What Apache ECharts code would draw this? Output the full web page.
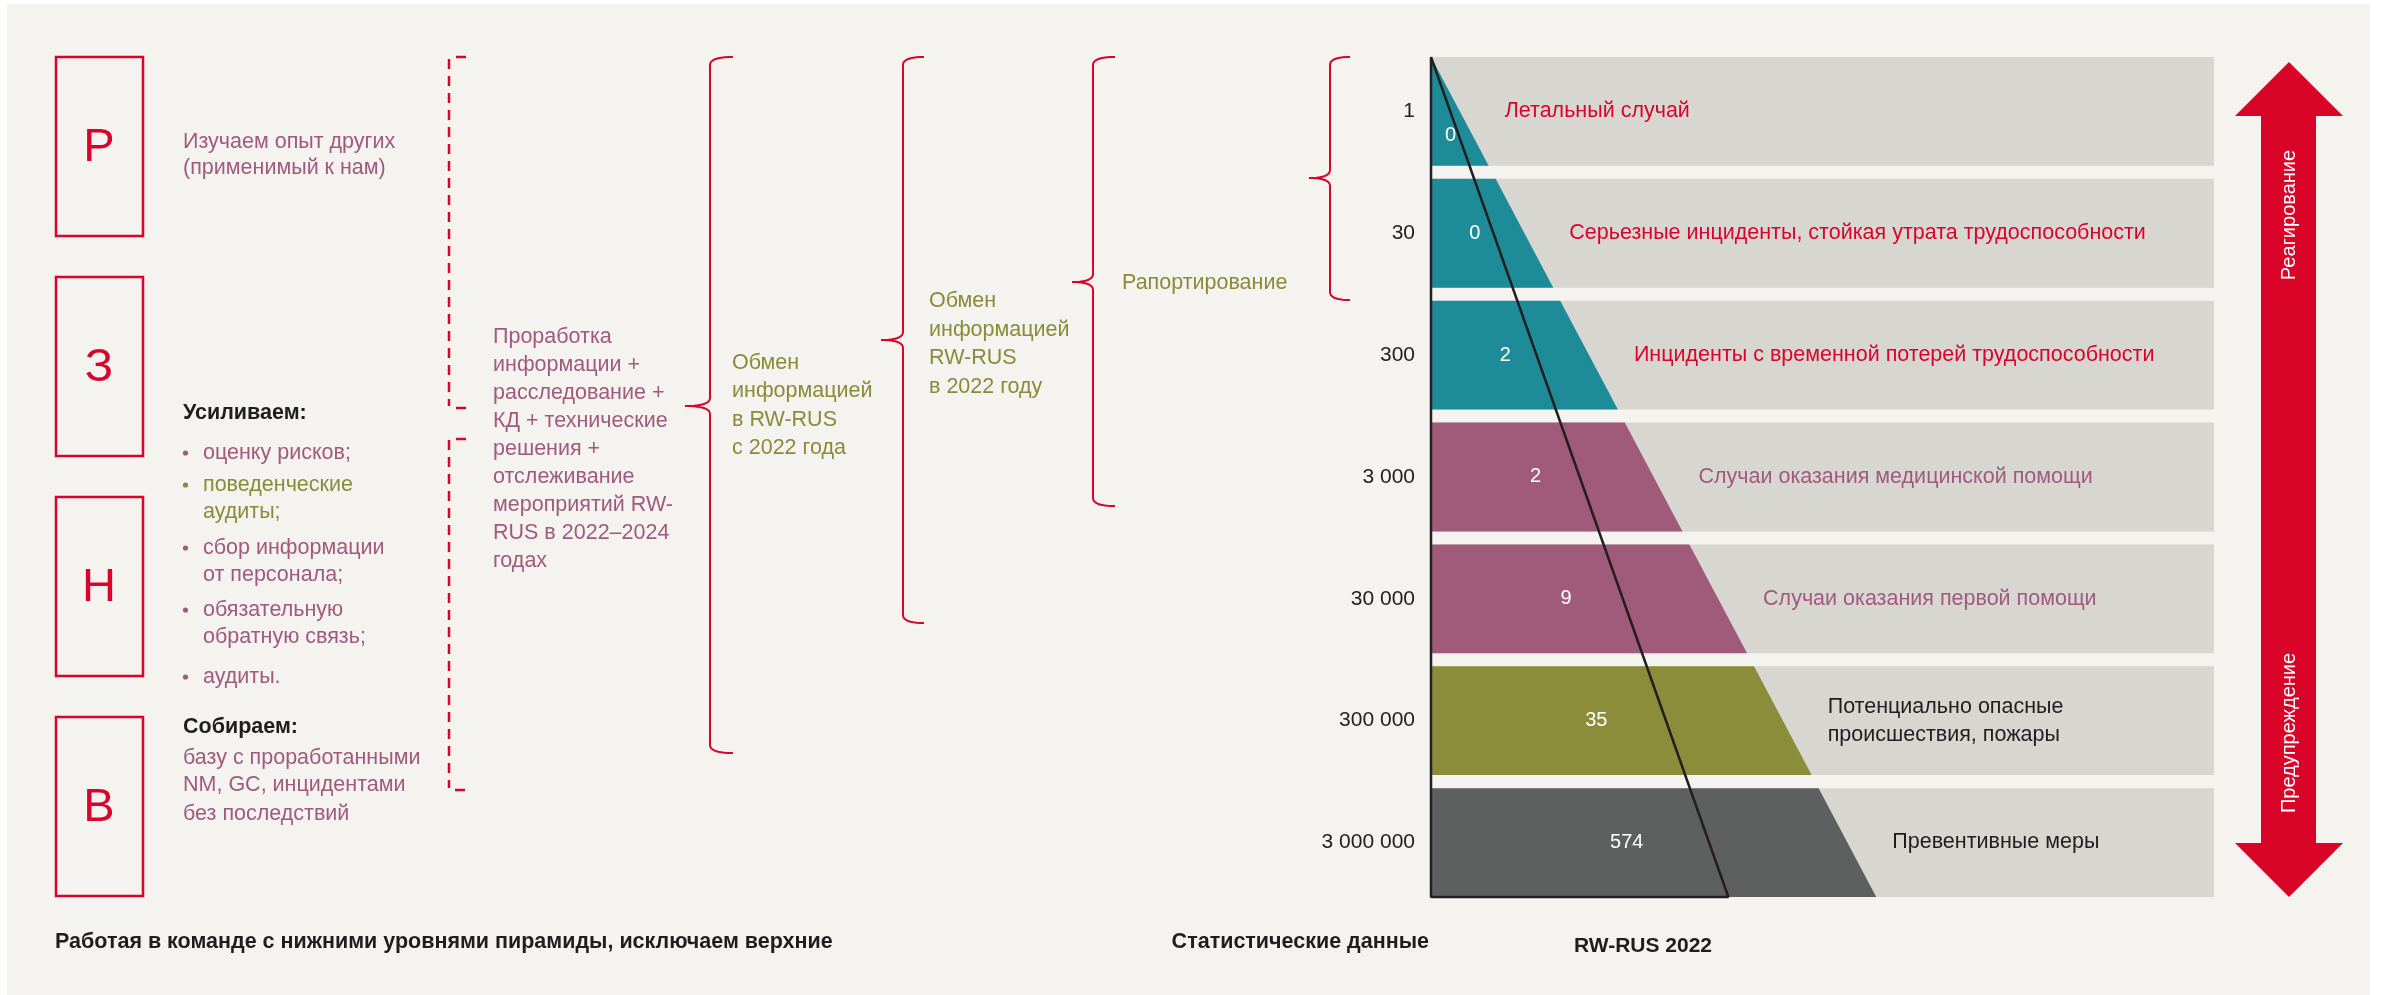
<!DOCTYPE html>
<html><head><meta charset="utf-8">
<script src="https://cdn.jsdelivr.net/npm/echarts@6/dist/echarts.min.js"></script>
<style>html,body{margin:0;padding:0;background:#fff}#c{width:2382px;height:995px}</style>
</head><body><div id="c"></div>
<script>
// ---- data ----
const levels = ['1', '30', '300', '3 000', '30 000', '300 000', '3 000 000'];
const counts2022 = [0, 0, 2, 2, 9, 35, 574];
const descriptions = [
  'Летальный случай',
  'Серьезные инциденты, стойкая утрата трудоспособности',
  'Инциденты с временной потерей трудоспособности',
  'Случаи оказания медицинской помощи',
  'Случаи оказания первой помощи',
  'Потенциально опасные\nпроисшествия, пожары',
  'Превентивные меры'
];
const levelGroups = ['injury', 'injury', 'injury', 'medical', 'medical', 'hazard', 'preventive'];
const boxLetters = ['Р', 'З', 'Н', 'В'];
const arrowLabels = ['Реагирование', 'Предупреждение'];
const captions = ['Работая в команде с нижними уровнями пирамиды, исключаем верхние', 'Статистические данные', 'RW-RUS 2022'];

// ---- styles ----
const RED = '#d9042b', MAUVE = '#a05a7b', OLIVE = '#8a8b38', BLACK = '#1e1e1e';
const groupFill = { injury: '#1e8b98', medical: '#a05b7b', hazard: '#8b8d3b', preventive: '#5e605f' };
const groupText = { injury: RED, medical: MAUVE, hazard: BLACK, preventive: BLACK };
const FONT = "'Liberation Sans', Arial, sans-serif";
const FS = 21.5;
const BAND = 0.893;      // band height in level units (rest is gap)
const EDGE_K = 8.25;     // coloured pyramid edge slope (x units per level)
const LINE_K = 5.51;     // RW-RUS outline slope
const Y_END = levels.length - 1 + BAND;

const chart = echarts.init(document.getElementById('c'), null, { renderer: 'canvas' });

function T(x, y, text, fill, size, extra) {
  return Object.assign({ type: 'text', x: x, y: y,
    style: Object.assign({ text: text, fill: fill, fontSize: size || FS, fontFamily: FONT,
      align: 'left', verticalAlign: 'middle' }, (extra && extra.style) || {}) },
    extra && extra.el || {});
}
function bracePts(x, top, bottom, mid, tipX, endX) {
  const pts = [], r = 8;
  const q = (p0, c, p1) => { for (let t = 0; t <= 10; t++) { const u = t / 10;
    pts.push([(1-u)*(1-u)*p0[0] + 2*(1-u)*u*c[0] + u*u*p1[0], (1-u)*(1-u)*p0[1] + 2*(1-u)*u*c[1] + u*u*p1[1]]); } };
  q([endX, top], [x, top], [x, top + r]);
  q([x, mid - r], [x, mid], [tipX, mid]);
  q([tipX, mid], [x, mid], [x, mid + r]);
  q([x, bottom - r], [x, bottom], [endX, bottom]);
  return pts;
}
function brace(x, top, bottom, mid, tipX, endX) {
  return { type: 'polyline', shape: { points: bracePts(x, top, bottom, mid, tipX, endX) },
    style: { stroke: RED, lineWidth: 2, fill: null } };
}
function seg(x1, y1, x2, y2, dash) {
  return { type: 'line', shape: { x1: x1, y1: y1, x2: x2, y2: y2 },
    style: { stroke: RED, lineWidth: 2.5, lineDash: dash || null } };
}

const g = [];
g.push({ type: 'rect', shape: { x: 7, y: 4, width: 2363, height: 991 }, style: { fill: '#f4f3ef' }, z: -10 });
// boxes
[57, 277, 497, 717].forEach((top, i) => {
  g.push({ type: 'rect', shape: { x: 56, y: top, width: 87, height: 179 }, style: { fill: null, stroke: RED, lineWidth: 2.5 } });
  g.push(T(99, top + 91, boxLetters[i], RED, 47, { style: { align: 'center' } }));
});
// left texts
g.push(T(183, 142, 'Изучаем опыт других', MAUVE));
g.push(T(183, 168, '(применимый к нам)', MAUVE));
g.push(T(183, 413, 'Усиливаем:', BLACK, FS, { style: { fontWeight: 'bold' } }));
const bullets = [
  [453, ['оценку рисков;'], MAUVE],
  [485, ['поведенческие', 'аудиты;'], OLIVE],
  [548, ['сбор информации', 'от персонала;'], MAUVE],
  [610, ['обязательную', 'обратную связь;'], MAUVE],
  [677, ['аудиты.'], MAUVE]
];
bullets.forEach(b => {
  g.push({ type: 'circle', shape: { cx: 185.5, cy: b[0], r: 2.6 }, style: { fill: b[2] } });
  b[1].forEach((s, k) => g.push(T(203, b[0] + k * 27, s, b[2])));
});
g.push(T(183, 727, 'Собираем:', BLACK, FS, { style: { fontWeight: 'bold' } }));
['базу с проработанными', 'NM, GC, инцидентами', 'без последствий'].forEach((s, k) =>
  g.push(T(183, [758, 785, 814][k], s, MAUVE)));

// dashed bracket
g.push(seg(449, 59, 449, 406, [10, 7]));
g.push(seg(449, 440, 449, 788, [10, 7]));
g.push(seg(456, 57, 466, 57));
g.push(seg(456, 408, 466, 408));
g.push(seg(456, 439, 466, 439));
g.push(seg(455, 790, 465, 790));
['Проработка', 'информации +', 'расследование +', 'КД + технические', 'решения +', 'отслеживание',
 'мероприятий RW-', 'RUS в 2022–2024', 'годах'].forEach((s, k) => g.push(T(493, 337 + k * 28, s, MAUVE)));

g.push(brace(710, 57, 753, 406, 685, 733));
['Обмен', 'информацией', 'в RW-RUS', 'с 2022 года'].forEach((s, k) => g.push(T(732, 363 + k * 28.5, s, OLIVE)));
g.push(brace(903, 57, 623, 340, 881, 924));
['Обмен', 'информацией', 'RW-RUS', 'в 2022 году'].forEach((s, k) => g.push(T(929, 301 + k * 28.7, s, OLIVE)));
g.push(brace(1093, 57, 506, 282, 1072, 1115));
g.push(T(1122, 283, 'Рапортирование', OLIVE));
g.push(brace(1330, 57, 300, 178, 1309, 1350));

// arrow
g.push({ type: 'polygon', shape: { points: [[2289, 62], [2343, 116], [2316, 116], [2316, 843], [2343, 843], [2289, 897],
  [2235, 843], [2261, 843], [2261, 116], [2235, 116]] }, style: { fill: '#da0428' } });
g.push(T(2289, 215, arrowLabels[0], '#fff', 20, { style: { align: 'center' }, el: { rotation: Math.PI / 2 } }));
g.push(T(2289, 733, arrowLabels[1], '#fff', 20, { style: { align: 'center' }, el: { rotation: Math.PI / 2 } }));

// captions
g.push(T(55, 942, captions[0], BLACK, FS, { style: { fontWeight: 'bold' } }));
g.push(T(1429, 942, captions[1], BLACK, FS, { style: { fontWeight: 'bold', align: 'right' } }));
g.push(T(1643, 946, captions[2], BLACK, 21, { style: { fontWeight: 'bold', align: 'center' } }));

chart.setOption({
  animation: false,
  backgroundColor: '#ffffff',
  graphic: { elements: g },
  grid: { left: 1431, top: 57, width: 783, height: 853 },
  xAxis: { type: 'value', min: 0, max: 100, show: false },
  yAxis: { type: 'value', min: 0, max: 7, inverse: true, show: false },
  series: [
    {
      type: 'custom',
      clip: false,
      data: levels.map((l, i) => [i, counts2022[i]]),
      renderItem: function (params, api) {
        const i = api.value(0), y0 = i, y1 = i + BAND;
        const grp = levelGroups[i];
        const a = api.coord([0, y0]), b = api.coord([100, y1]);
        const tl = api.coord([EDGE_K * y0, y0]), br = api.coord([EDGE_K * y1, y1]);
        const bl = api.coord([0, y1]);
        const cy = (a[1] + b[1]) / 2;
        const mid = api.coord([0.47 * EDGE_K * (y0 + BAND / 2), y0]);
        return {
          type: 'group',
          children: [
            { type: 'rect', shape: { x: a[0], y: a[1], width: b[0] - a[0], height: b[1] - a[1] }, style: { fill: '#d8d6d1' } },
            { type: 'polygon', shape: { points: [a, tl, br, bl] }, style: { fill: groupFill[grp] } },
            { type: 'text', style: { x: a[0] - 16, y: cy, text: levels[i], fill: '#222', fontSize: 21, fontFamily: FONT, align: 'right', verticalAlign: 'middle' } },
            { type: 'text', style: { x: mid[0] + (i === 0 ? 6 : 0), y: cy + (i === 0 ? 24 : 0), text: String(api.value(1)), fill: '#fff', fontSize: 20, fontFamily: FONT, align: 'center', verticalAlign: 'middle' } },
            { type: 'text', style: { x: br[0] + 16, y: cy, text: descriptions[i], fill: groupText[grp], fontSize: FS, lineHeight: 28, fontFamily: FONT, align: 'left', verticalAlign: 'middle' } }
          ]
        };
      }
    },
    {
      type: 'line',
      symbol: 'none',
      z: 10,
      lineStyle: { color: '#231f20', width: 2.5 },
      data: [[0, 0], [LINE_K * Y_END, Y_END], [0, Y_END], [0, 0]]
    }
  ]
});
</script></body></html>
